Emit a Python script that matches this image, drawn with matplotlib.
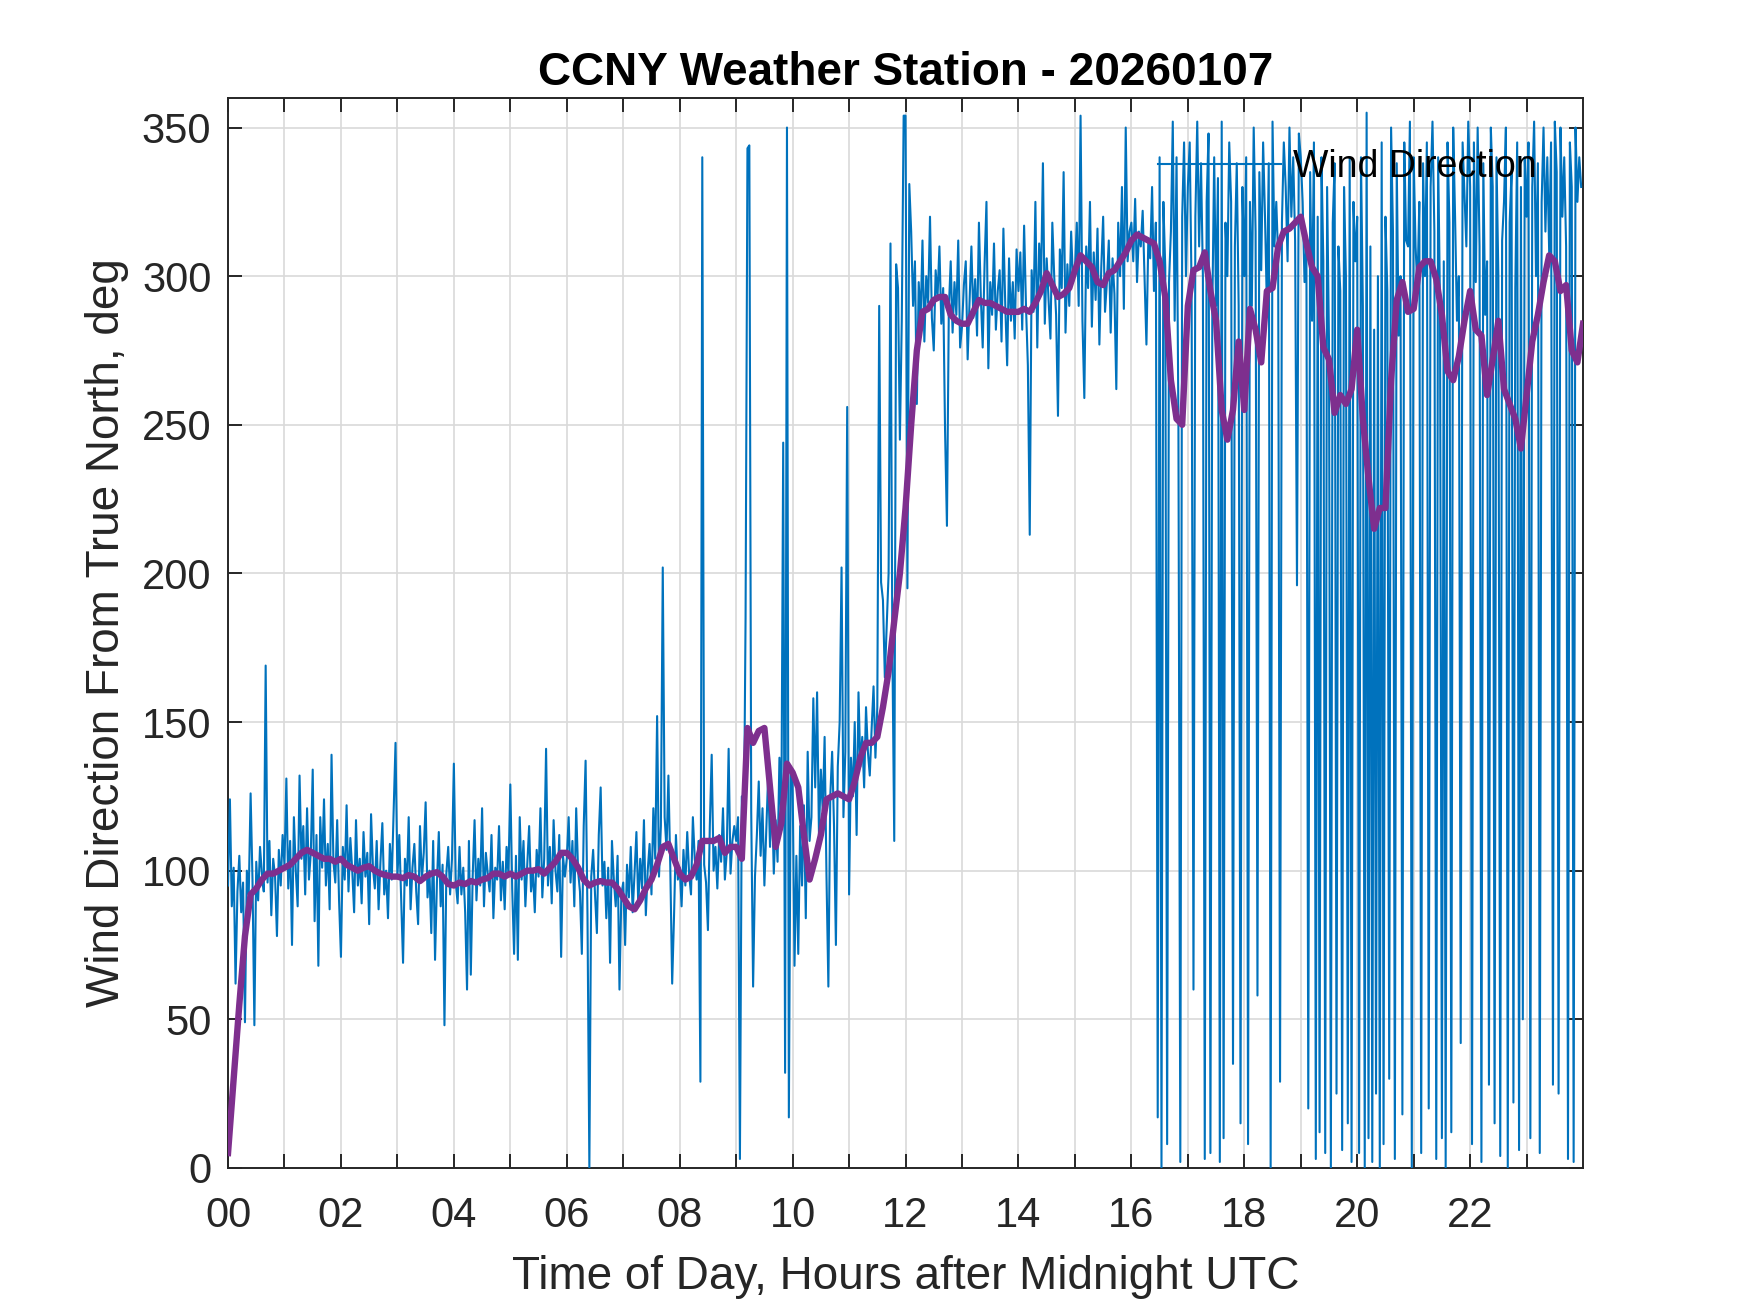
import numpy as np
import matplotlib
matplotlib.use("Agg")
import matplotlib.pyplot as plt

# =============================================================================
# Datos: dirección del viento cada 2 minutos (30 valores por hora)
# =============================================================================

wind_dir_rows = [
    [95, 124, 88, 101, 62, 93, 105, 86, 96, 49, 100, 92, 126, 97, 48, 103, 90, 108, 99, 93, 169, 96, 110, 85, 104, 98, 78, 107, 95, 112],
    [102, 131, 94, 110, 75, 118, 100, 88, 132, 104, 115, 92, 121, 97, 106, 134, 83, 112, 68, 118, 101, 124, 95, 109, 87, 139, 103, 96, 117, 90],
    [71, 108, 97, 122, 93, 111, 100, 86, 117, 95, 104, 89, 113, 98, 106, 82, 119, 101, 94, 110, 87, 103, 116, 92, 100, 84, 109, 97, 120, 143],
    [98, 112, 90, 69, 104, 95, 118, 87, 101, 109, 93, 82, 115, 97, 106, 123, 91, 100, 79, 110, 70, 96, 113, 88, 102, 48, 99, 108, 92, 104],
    [136, 96, 89, 108, 92, 101, 86, 60, 110, 65, 98, 117, 90, 104, 95, 121, 88, 106, 99, 93, 112, 84, 101, 97, 115, 90, 103, 87, 108, 99],
    [129, 94, 72, 105, 70, 118, 97, 110, 88, 102, 115, 93, 100, 86, 107, 98, 121, 91, 104, 141, 95, 108, 89, 117, 100, 93, 112, 71, 105, 98],
    [104, 118, 96, 110, 88, 121, 100, 93, 72, 115, 137, 85, 0, 98, 107, 92, 79, 112, 128, 95, 103, 84, 101, 69, 110, 97, 88, 105, 60, 92],
    [96, 75, 102, 91, 108, 86, 99, 113, 88, 104, 94, 117, 85, 100, 109, 92, 121, 104, 152, 98, 115, 202, 118, 107, 132, 101, 62, 85, 112, 97],
    [101, 88, 107, 95, 113, 99, 92, 118, 104, 97, 110, 29, 340, 102, 96, 80, 115, 139, 100, 108, 94, 112, 103, 121, 97, 106, 141, 99, 110, 115],
    [110, 118, 3, 125, 104, 185, 343, 344, 120, 61, 98, 112, 130, 105, 121, 95, 114, 132, 108, 126, 99, 117, 103, 138, 115, 244, 32, 350, 17, 135],
    [130, 68, 105, 72, 115, 95, 122, 84, 140, 110, 118, 158, 128, 160, 112, 134, 120, 145, 98, 61, 125, 140, 115, 75, 135, 150, 202, 118, 140, 256],
    [92, 138, 125, 150, 112, 160, 135, 145, 128, 155, 140, 132, 148, 162, 138, 155, 290, 197, 191, 165, 183, 200, 311, 175, 110, 304, 296, 245, 285, 354],
    [354, 195, 331, 315, 290, 305, 257, 298, 285, 312, 278, 300, 291, 320, 286, 275, 302, 293, 310, 284, 296, 248, 216, 289, 305, 281, 298, 287, 312, 276],
    [283, 297, 305, 272, 291, 310, 286, 299, 280, 318, 293, 276, 304, 325, 269, 298, 287, 311, 282, 295, 302, 278, 316, 290, 270, 306, 285, 298, 279, 309],
    [295, 308, 282, 317, 290, 270, 213, 302, 288, 325, 276, 311, 298, 338, 284, 306, 292, 279, 318, 300, 287, 253, 309, 296, 335, 281, 304, 290, 315, 298],
    [302, 318, 290, 354, 285, 259, 310, 296, 325, 283, 308, 292, 316, 277, 303, 320, 288, 298, 312, 281, 306, 294, 262, 318, 300, 330, 289, 350, 305, 315],
    [318, 305, 326, 298, 315, 310, 322, 300, 277, 312, 306, 330, 295, 318, 17, 340, 0, 325, 303, 8, 298, 315, 352, 285, 340, 250, 2, 320, 345, 300],
    [330, 345, 295, 60, 320, 352, 310, 338, 300, 3, 325, 348, 5, 288, 340, 290, 333, 2, 352, 10, 318, 300, 345, 325, 35, 310, 338, 290, 15, 330],
    [300, 340, 8, 325, 290, 350, 315, 58, 335, 302, 345, 320, 290, 338, 0, 352, 310, 325, 306, 29, 318, 345, 330, 305, 350, 320, 340, 312, 196, 348],
    [340, 325, 298, 310, 20, 335, 285, 345, 3, 320, 12, 340, 305, 5, 330, 278, 0, 318, 338, 25, 310, 295, 6, 330, 300, 15, 340, 2, 325, 305],
    [320, 5, 340, 290, 0, 355, 10, 310, 2, 282, 25, 300, 0, 345, 8, 320, 295, 30, 350, 315, 3, 338, 280, 300, 18, 345, 312, 310, 352, 0],
    [340, 310, 296, 325, 5, 338, 300, 345, 20, 330, 352, 315, 3, 340, 290, 10, 305, 0, 345, 318, 12, 350, 320, 285, 300, 42, 345, 328, 310, 352],
    [330, 8, 345, 298, 350, 310, 2, 338, 287, 305, 28, 350, 330, 15, 340, 300, 4, 312, 325, 350, 0, 318, 335, 22, 296, 345, 6, 330, 50, 340],
    [320, 345, 10, 330, 352, 300, 338, 5, 325, 350, 315, 340, 308, 345, 28, 352, 335, 25, 350, 320, 340, 310, 3, 345, 330, 2, 350, 325, 340, 330],
]

# promedio móvil, cada 0.1 h (de 00 a 24)
avg_dir = [
    5, 30, 55, 78, 92, 94, 97, 99, 99, 100,
    101, 102, 104, 106, 107, 106, 105, 104, 104, 103,
    104, 102, 101, 100, 101, 101.5, 100, 99, 98.5, 98,
    98, 97.5, 98.5, 98, 96.5, 98, 99, 99.5, 98, 95.5,
    95, 96, 95.5, 96.5, 96, 97, 97.5, 99, 99, 98,
    99, 98, 99, 100, 100, 100.5, 99, 101, 103, 106,
    106, 104, 101, 97, 95, 96, 96.5, 96, 96, 94,
    91, 88, 87, 90, 94, 97, 102, 108, 109, 104,
    99, 97, 98, 102, 110, 110, 110, 111, 106, 108,
    108, 104, 148, 143, 147, 148, 128, 108, 116, 136,
    133, 128, 112, 97, 104, 112, 124, 125, 126, 125,
    124, 130, 138, 143, 143, 145, 155, 167, 184, 200,
    222, 250, 275, 288, 289, 292, 293, 293, 287, 285,
    284, 284, 288, 292, 291, 291, 290, 289, 288, 288,
    288, 289, 288, 291, 295, 301, 297, 293, 294, 296,
    302, 307, 305, 303, 298, 297, 301, 302, 305, 308,
    312, 314, 313, 312, 311, 305, 293, 265, 252, 250,
    290, 302, 303, 308, 295, 285, 255, 245, 255, 278,
    255, 289, 282, 271, 295, 296, 310, 315, 316, 318,
    320, 311, 303, 300, 276, 272, 254, 260, 257, 262,
    282, 252, 232, 215, 222, 222, 265, 292, 298, 288,
    289, 303, 305, 305, 299, 287, 268, 265, 273, 285,
    295, 282, 280, 260, 272, 285, 262, 257, 252, 242,
    260, 278, 287, 298, 307, 305, 295, 297, 275, 271,
    284,
]

hour_ticks = list(range(24))
hour_labels = [f"{h:02d}" if h % 2 == 0 else "" for h in hour_ticks]
deg_ticks = [0, 50, 100, 150, 200, 250, 300, 350]

TITLE = "CCNY Weather Station - 20260107"
XLABEL = "Time of Day, Hours after Midnight UTC"
YLABEL = "Wind Direction From True North, deg"

# =============================================================================
# Gráfico
# =============================================================================

wind_dir = np.concatenate(wind_dir_rows)
t_wind = np.arange(len(wind_dir)) / 30.0
t_avg = np.arange(len(avg_dir)) / 10.0

plt.rcParams["font.family"] = ["Liberation Sans", "DejaVu Sans"]

fig = plt.figure(figsize=(8.75, 6.565), dpi=200)
ax = fig.add_axes([0.1303, 0.1105, 0.7743, 0.815])

ax.plot(t_wind, wind_dir, color="#0072BD", lw=0.75, label="Wind Direction", zorder=3)
ax.plot(t_avg, avg_dir, color="#7E2F8E", lw=2.3, zorder=4)

ax.set_xlim(0, 24)
ax.set_ylim(0, 360)
ax.set_xticks(hour_ticks)
ax.set_xticklabels(hour_labels)
ax.set_yticks(deg_ticks)

ax.grid(True, color="#d9d9d9", lw=0.6)
ax.set_axisbelow(True)

dark = "#262626"
for s in ax.spines.values():
    s.set_color(dark)
    s.set_linewidth(0.7)
ax.tick_params(direction="in", length=5, width=0.7, color=dark,
               top=True, right=True, labelsize=15, labelcolor=dark)
ax.tick_params(axis="x", pad=10)
ax.tick_params(axis="y", pad=6)

ax.set_title(TITLE, fontsize=16.5, fontweight="bold", pad=4.5)
ax.set_xlabel(XLABEL, fontsize=16.5, color=dark, labelpad=7)
ax.set_ylabel(YLABEL, fontsize=16.5, color=dark, labelpad=4.5)

leg = ax.legend(loc="center left", bbox_to_anchor=(0.675, 0.935), frameon=False,
                fontsize=13.5, handlelength=3.3, borderaxespad=0, handletextpad=0.3)

fig.savefig("out.png", dpi=200)
